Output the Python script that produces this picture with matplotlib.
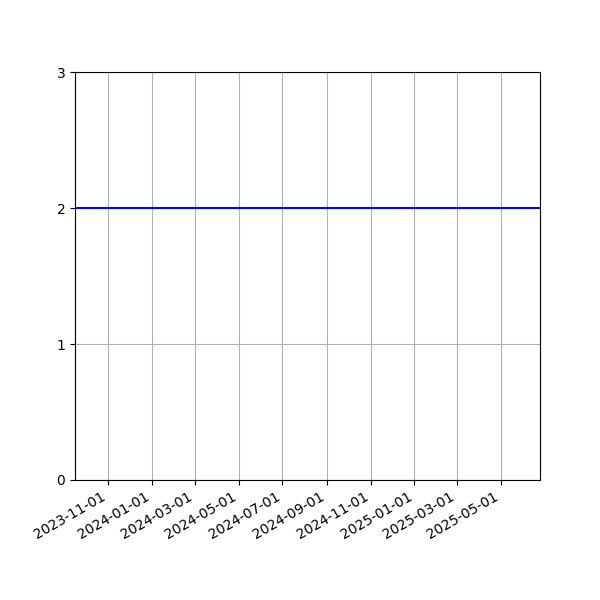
import matplotlib
matplotlib.use("Agg")
import matplotlib.pyplot as plt
import matplotlib.dates as mdates
import numpy as np
import datetime as dt

dates = [dt.date(2023, 9, 16), dt.date(2025, 6, 25)]
values = [2, 2]

fig, ax = plt.subplots(figsize=(6, 6), dpi=100)
ax.plot(dates, values, color="blue", linewidth=1.5)
ax.set_xlim(dates[0], dates[-1])
ax.set_ylim(0, 3)
ax.set_yticks([0, 1, 2, 3])
ax.xaxis.set_major_locator(mdates.MonthLocator(bymonth=[1, 3, 5, 7, 9, 11]))
ax.xaxis.set_major_formatter(mdates.DateFormatter("%Y-%m-%d"))
ax.grid(True)
fig.autofmt_xdate()
fig.savefig("out.png", dpi=100)
